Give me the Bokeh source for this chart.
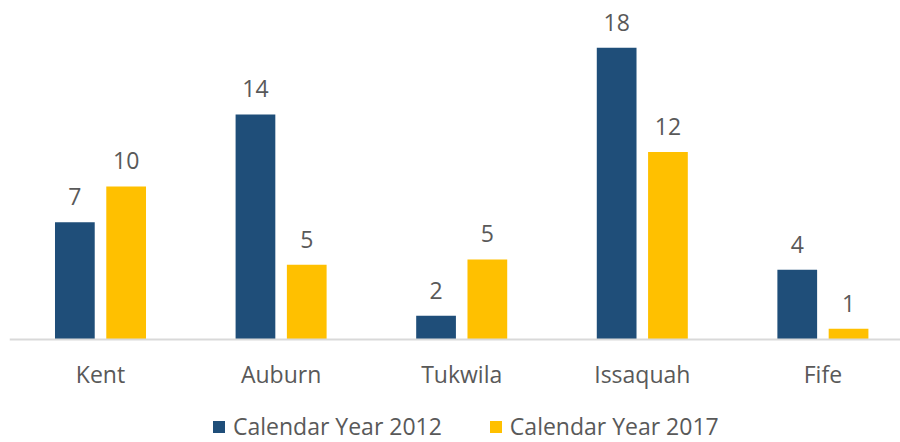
from bokeh.plotting import figure
from bokeh.models import (ColumnDataSource, Range1d, FixedTicker, LabelSet, Legend,
                          LegendItem)
from bokeh.core.properties import value
from bokeh.transform import dodge
from bokeh.embed import file_html
from bokeh.resources import INLINE

# ---- data ----
categories = ["Kent", "Auburn", "Tukwila", "Issaquah", "Fife"]
series_names = ["Calendar Year 2012", "Calendar Year 2017"]
values_2012 = [7.43, 14.26, 1.50, 18.49, 4.42]
values_2017 = [9.70, 4.73, 5.07, 11.89, 0.68]
labels_2012 = ["7", "14", "2", "18", "4"]
labels_2017 = ["10", "5", "5", "12", "1"]

BLUE = "#1F4E79"
GOLD = "#FFC000"
TEXT = "#595959"
FONT = "Open Sans"

src = ColumnDataSource(dict(
    x=list(range(len(categories))),
    v2012=values_2012, v2017=values_2017,
    l2012=labels_2012, l2017=labels_2017,
))

p = figure(width=900, height=442, output_backend="svg", toolbar_location=None,
           x_range=Range1d(-0.5039, 4.4297), y_range=Range1d(-6.527, 21.483),
           y_axis_location=None, min_border_left=9, min_border_right=0,
           min_border_top=0, min_border_bottom=0)
p.outline_line_color = None
p.grid.visible = False
p.background_fill_color = "white"
p.border_fill_color = "white"

off = 0.142
bw = 0.22
r1 = p.vbar(x=dodge("x", -off), top="v2012", bottom=0, width=bw, source=src,
            fill_color=BLUE, line_color=None)
r2 = p.vbar(x=dodge("x", off), top="v2017", bottom=0, width=bw, source=src,
            fill_color=GOLD, line_color=None)

for col, lab, d in (("v2012", "l2012", -off), ("v2017", "l2017", off)):
    ls = LabelSet(x=dodge("x", d), y=col, text=lab, source=src,
                  text_align="center", text_baseline="alphabetic", y_offset=17,
                  text_font=value(FONT), text_font_size=value("23px"),
                  text_color=value(TEXT))
    p.add_layout(ls)

ax = p.xaxis[0]
ax.fixed_location = 0
ax.ticker = FixedTicker(ticks=list(range(len(categories))))
ax.major_label_overrides = {i: c for i, c in enumerate(categories)}
ax.axis_line_color = "#D9D9D9"
ax.axis_line_width = 2
ax.major_tick_line_color = None
ax.minor_tick_line_color = None
ax.major_tick_out = 0
ax.major_tick_in = 0
ax.major_label_standoff = 18
ax.major_label_text_font = FONT
ax.major_label_text_font_size = "23px"
ax.major_label_text_color = TEXT

legend = Legend(items=[LegendItem(label=series_names[0], renderers=[r1]),
                       LegendItem(label=series_names[1], renderers=[r2])],
                orientation="horizontal", location=(202, 0),
                padding=0, margin=0, spacing=46, label_standoff=7,
                glyph_width=15, glyph_height=15,
                border_line_color=None, background_fill_alpha=0,
                label_text_font=FONT, label_text_font_size="23px",
                label_text_color=TEXT)
p.add_layout(legend, "center")

open("out.html", "w").write(file_html(p, INLINE))
